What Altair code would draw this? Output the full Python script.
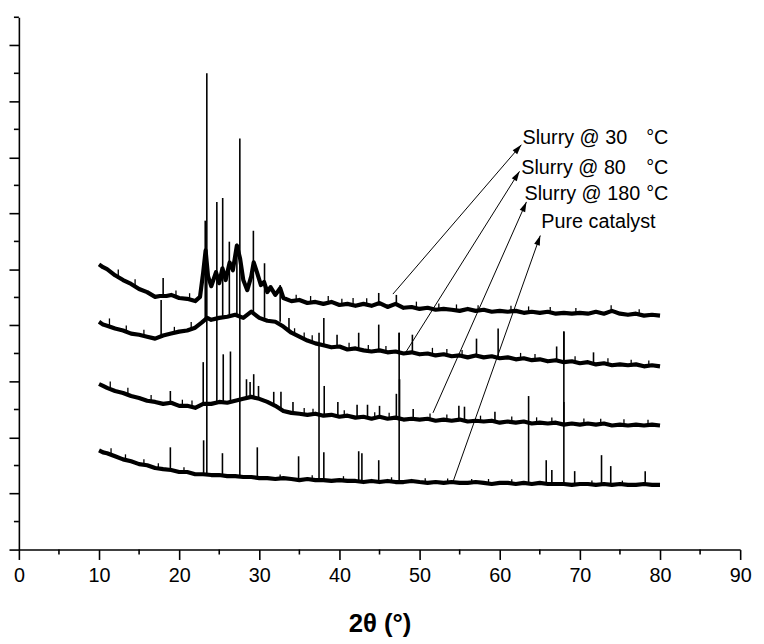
import math
import altair as alt
import pandas as pd

FONT = "Liberation Sans"

samples = ["Slurry @ 30 °C", "Slurry @ 80 °C", "Slurry @ 180 °C", "Pure catalyst"]

# ---- baselines (2theta, intensity a.u.) ----
t1_x = [10, 10.5, 11, 12, 13, 14, 15, 16, 17, 17.6, 18.4, 19, 20, 21, 22, 22.6, 23.0, 23.3, 23.6, 24.0,
        24.6, 25.0, 25.4, 25.8, 26.3, 26.7, 27.2, 27.6, 28.0, 28.5, 29.0, 29.3, 29.7, 30.2, 30.6, 31.0,
        31.4, 32.0, 32.6, 33.0] + list(range(34, 81))
t1_y = [1018, 1008, 1001, 979, 962, 948, 930, 919, 902, 905, 905, 909, 898, 895, 887, 902, 990, 1068, 976, 940,
        990, 951, 1004, 962, 1025, 997, 1085, 1039, 962, 926, 976, 1025, 990, 944, 955, 919,
        937, 909, 933, 898,
        887, 891, 880, 884, 877, 884, 873, 877, 870, 877, 870, 880, 866, 877, 863, 866, 859, 863, 856, 859,
        856, 852, 859, 852, 856, 849, 852, 849, 852, 845, 849, 845, 849, 842, 845, 842, 845, 842, 849, 842,
        852, 842, 838, 842, 835, 838, 835]

t2_x = [10, 10.5, 11, 12, 13, 14, 15, 16, 17, 18, 19, 20, 21, 22, 22.8, 23.5] + list(range(24, 81))
t2_y = [813, 803, 799, 789, 782, 771, 767, 760, 753, 764, 771, 778, 782, 792, 810, 827,
        820, 827, 831, 838, 827, 849, 827, 817, 813, 796, 774, 760, 746, 736, 729, 722, 725, 714, 718, 711,
        707, 711, 704, 707, 700, 704, 697, 700, 693, 697, 690, 693, 686, 693, 686, 690, 683, 686, 679, 683,
        676, 679, 672, 676, 669, 672, 665, 669, 661, 665, 658, 661, 658, 661, 654, 658, 654]

t3_x = [10, 10.5] + list(range(11, 81))
t3_y = [591, 584,
        577, 566, 559, 548, 541, 531, 527, 520, 524, 513, 513, 506, 520, 520, 527, 524, 531, 538, 545, 538,
        527, 513, 495, 488, 485, 481, 485, 478, 481, 474, 478, 471, 474, 467, 474, 467, 471, 464, 467, 464,
        467, 460, 464, 460, 464, 457, 460, 457, 460, 453, 457, 453, 457, 450, 453, 450, 453, 446, 450, 446,
        450, 446, 450, 443, 446, 443, 446, 443, 446, 443]

t4_x = [10, 10.5] + list(range(11, 81))
t4_y = [354, 347,
        344, 333, 322, 315, 305, 301, 291, 287, 284, 277, 277, 269, 269, 266, 266, 262, 262, 259, 259, 255,
        255, 252, 255, 252, 248, 252, 248, 248, 245, 248, 245, 245, 241, 245, 241, 245, 241, 241, 245, 241,
        238, 241, 238, 241, 238, 238, 241, 238, 234, 238, 238, 234, 238, 234, 238, 234, 234, 234, 231, 234,
        234, 231, 234, 231, 234, 231, 231, 234, 231, 231]

# ---- sharp reflections: position, base, top ----
p1_pos = [18.0, 44.9, 47.1]
p1_base = [905, 877, 873]
p1_top = [969, 916, 909]

p2_pos = [17.75, 23.25, 25.43, 26.26, 27.2, 29.26, 30.65, 32.6, 33.7, 38.05, 39.7, 42.4, 44.9, 47.45, 49.1,
          57.1, 59.8, 67.1, 68.0, 71.7]
p2_base = [757, 824, 827, 831, 838, 849, 827, 813, 785, 729, 725, 718, 711, 707, 704, 693, 686, 676, 669, 665]
p2_top = [891, 1174, 1255, 1099, 1092, 1138, 1022, 944, 827, 827, 767, 774, 803, 774, 767, 753, 789, 725, 778, 704]

p3_pos = [18.9, 23.0, 24.7, 25.5, 26.4, 28.4, 28.85, 29.3, 29.9, 31.8, 32.7, 34.2, 38.1, 39.8, 42.2, 43.5, 45.0,
          47.1, 47.5, 49.2, 54.9, 55.6, 59.4, 68.0]
p3_base = [520, 520, 520, 527, 524, 538, 541, 545, 538, 520, 503, 488, 478, 478, 471, 474, 474, 471, 471, 467,
           464, 464, 460, 446]
p3_top = [566, 669, 1241, 697, 707, 608, 598, 626, 584, 563, 563, 527, 584, 527, 517, 517, 513, 556, 608, 502,
          513, 510, 492, 527]

p4_pos = [18.9, 23.05, 23.45, 25.4, 27.57, 29.75, 34.9, 37.45, 38.05, 42.4, 42.8, 44.9, 47.45, 63.6, 65.8, 66.5,
          68.0, 69.35, 72.7, 73.85, 78.15]
p4_base = [284, 269, 269, 266, 262, 259, 248, 248, 248, 245, 245, 241, 241, 238, 234, 234, 234, 231, 231, 234, 234]
p4_top = [365, 390, 1700, 344, 1467, 365, 333, 774, 347, 351, 344, 319, 774, 548, 319, 284, 778, 280, 337, 298, 280]

# ---- small noise spikes seen on each baseline: position, base, top ----
n1_pos = [12.4, 14.5, 19.6, 21.3, 34.6, 36.4, 38.6, 40.3, 41.7, 43.4, 49.6, 52.4, 54.6, 57.3, 61.4, 63.6,
          66.3, 69.5, 73.9, 77.4]
n1_base = [975, 940, 905, 893, 889, 882, 880, 873, 877, 875, 864, 857, 854, 852, 850, 847, 848, 843, 847, 840]
n1_top = [1000, 965, 925, 915, 910, 905, 905, 895, 898, 897, 885, 878, 875, 872, 870, 868, 866, 862, 872, 858]

n2_pos = [11.3, 13.4, 15.6, 19.4, 21.5, 34.4, 35.6, 36.6, 41.2, 43.6, 45.8, 51.6, 53.4, 55.3, 62.6, 64.4,
          69.4, 73.5, 76.4, 78.6]
n2_base = [797, 778, 763, 773, 787, 767, 752, 741, 714, 709, 705, 698, 695, 692, 681, 677, 670, 663, 658, 656]
n2_top = [825, 800, 785, 795, 812, 790, 775, 765, 738, 730, 727, 720, 716, 712, 702, 698, 690, 683, 678, 675]

n3_pos = [11.4, 13.6, 16.5, 20.4, 21.6, 35.6, 36.7, 40.6, 44.4, 46.2, 51.3, 53.4, 57.6, 61.5, 64.6, 66.5,
          70.5, 72.6, 75.5, 78.5]
n3_base = [573, 553, 529, 513, 510, 483, 482, 476, 470, 467, 466, 462, 459, 455, 452, 451, 448, 448, 445, 445]
n3_top = [600, 578, 552, 535, 532, 505, 503, 497, 490, 488, 486, 482, 478, 475, 472, 471, 468, 467, 465, 463]

n4_pos = [11.5, 13.3, 15.6, 17.4, 20.6, 32.6, 36.6, 40.5, 46.5, 50.7, 53.5, 56.5, 58.6, 61.5, 71.5, 75.3]
n4_base = [339, 320, 303, 289, 277, 253, 250, 247, 243, 240, 239, 238, 237, 237, 233, 232]
n4_top = [362, 340, 322, 308, 294, 268, 265, 262, 258, 255, 254, 252, 252, 251, 247, 246]

# ---- annotations ----
label_text = ["Slurry @ 30", "Slurry @ 80", "Slurry @ 180", "Pure catalyst"]
label_x = [62.84, 62.68, 63.09, 65.19]
label_y = [1468, 1362, 1268, 1168]
unit_x = [78.27, 78.27, 78.27]
unit_y = [1468, 1362, 1268]
arrow_tail_x = [46.67, 48.27, 51.67, 54.16]
arrow_tail_y = [912, 704, 488, 241]
arrow_head_x = [62.7, 62.47, 63.33, 65.06]
arrow_head_y = [1445, 1350, 1241, 1121]

x_major = list(range(0, 91, 10))
x_minor = list(range(5, 90, 10))
y_major = list(range(0, 1801, 200))
y_minor = list(range(100, 1901, 200))

W, H = 729, 538
XMAX, YMAX = 90, 1900

# ---- tables ----
base_rows = []
for s, xs, ys in zip(samples, [t1_x, t2_x, t3_x, t4_x], [t1_y, t2_y, t3_y, t4_y]):
    for a, b in zip(xs, ys):
        base_rows.append({"sample": s, "theta": a, "counts": b})
base_df = pd.DataFrame(base_rows)


def rule_table(pos_lists, base_lists, top_lists):
    rows = []
    for s, ps, bs, ts in zip(samples, pos_lists, base_lists, top_lists):
        for a, b, c in zip(ps, bs, ts):
            rows.append({"sample": s, "theta": a, "counts": b, "counts2": c})
    return pd.DataFrame(rows)


peak_df = rule_table([p1_pos, p2_pos, p3_pos, p4_pos], [p1_base, p2_base, p3_base, p4_base],
                     [p1_top, p2_top, p3_top, p4_top])
noise_df = rule_table([n1_pos, n2_pos, n3_pos, n4_pos], [n1_base, n2_base, n3_base, n4_base],
                      [n1_top, n2_top, n3_top, n4_top])

angles = []
for tx, ty, hx, hy in zip(arrow_tail_x, arrow_tail_y, arrow_head_x, arrow_head_y):
    dx = (hx - tx) * W / XMAX
    dy = (hy - ty) * H / YMAX
    angles.append(math.degrees(math.atan2(dx, dy)) % 360)
arrow_df = pd.DataFrame({"theta": arrow_tail_x, "counts": arrow_tail_y,
                         "theta2": arrow_head_x, "counts2": arrow_head_y})
head_df = pd.DataFrame({"theta": arrow_head_x, "counts": arrow_head_y, "ang": angles})
label_df = pd.DataFrame({"theta": label_x, "counts": label_y, "txt": label_text})
unit_df = pd.DataFrame({"theta": unit_x, "counts": unit_y, "txt": ["°C"] * 3})
xminor_df = pd.DataFrame({"theta": x_minor})
yminor_df = pd.DataFrame({"counts": y_minor})

xscale = alt.Scale(domain=[0, XMAX], nice=False, zero=False)
yscale = alt.Scale(domain=[0, YMAX], nice=False, zero=False)
xaxis = alt.Axis(values=x_major, tickSize=10, tickWidth=1.6, domainWidth=1.6, domainColor="black",
                 tickColor="black", labelFont=FONT, labelFontSize=20, labelColor="black", labelPadding=6,
                 labelFlush=False, grid=False, title="2θ (°)", titleFont=FONT, titleFontSize=26,
                 titleFontWeight="bold", titleColor="black", titlePadding=26)
yaxis = alt.Axis(values=y_major, tickSize=10, tickWidth=1.6, domainWidth=1.6, domainColor="black",
                 tickColor="black", labels=False, grid=False, title="")


def X(f="theta"):
    return alt.X(f, type="quantitative", scale=xscale, axis=xaxis)


def Y(f="counts"):
    return alt.Y(f, type="quantitative", scale=yscale, axis=yaxis)


baselines = alt.Chart(base_df).mark_line(color="black", strokeWidth=4.2, strokeJoin="round").encode(
    x=X(), y=Y(), detail="sample:N")
noise = alt.Chart(noise_df).mark_rule(color="black", strokeWidth=1.3).encode(
    x=X(), y=Y(), y2="counts2")
peaks = alt.Chart(peak_df).mark_rule(color="black", strokeWidth=1.6).encode(
    x=X(), y=Y(), y2="counts2")
arrows = alt.Chart(arrow_df).mark_rule(color="black", strokeWidth=1).encode(
    x=X(), y=Y(), x2="theta2", y2="counts2")
heads = alt.Chart(head_df).mark_point(shape="M0,0L-0.3,1L0.3,1Z", filled=True, color="black", opacity=1,
                                      size=400, strokeWidth=0).encode(
    x=X(), y=Y(), angle=alt.Angle("ang", type="quantitative", scale=None))
labels = alt.Chart(label_df).mark_text(align="left", baseline="middle", font=FONT, fontSize=20,
                                       color="black").encode(x=X(), y=Y(), text="txt")
units = alt.Chart(unit_df).mark_text(align="left", baseline="middle", font=FONT, fontSize=20,
                                     color="black").encode(x=X(), y=Y(), text="txt")
xminor = alt.Chart(xminor_df).mark_rule(color="black", strokeWidth=1.6).encode(
    x=X(), y=alt.value(H), y2=alt.value(H + 5))
yminor = alt.Chart(yminor_df).mark_rule(color="black", strokeWidth=1.6).encode(
    y=Y(), x=alt.value(-5), x2=alt.value(0))

chart = alt.layer(baselines, noise, peaks, arrows, heads, labels, units, xminor, yminor).properties(
    width=W, height=H, autosize="none",
    padding={"left": 11, "top": 6, "right": 16, "bottom": 86},
    background="white",
).configure_view(strokeWidth=0)

chart.save("out.html", embed_options={"renderer": "svg", "actions": False})
